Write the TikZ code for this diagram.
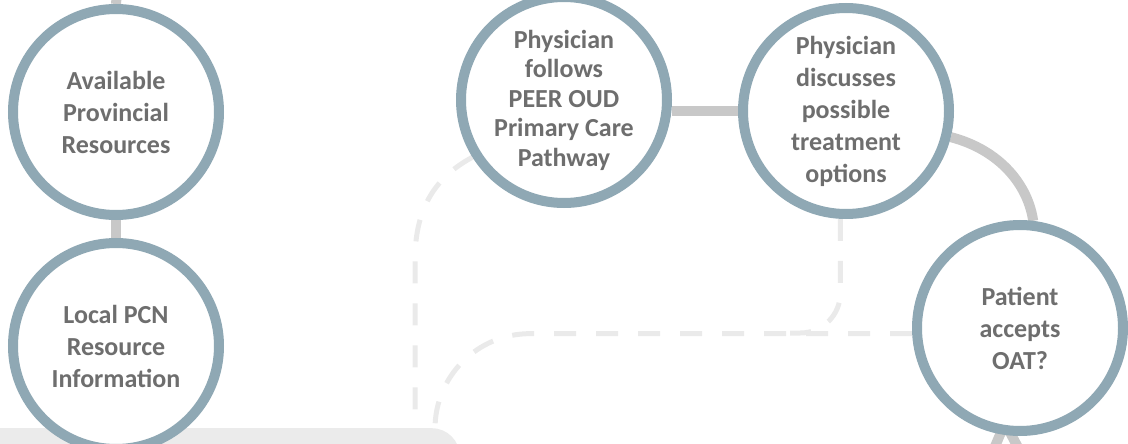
\documentclass[tikz,border=0pt]{standalone}
\usepackage{fontspec}
\setmainfont{Carlito}
\usetikzlibrary{positioning,backgrounds}
\definecolor{ring}{HTML}{8FA8B4}
\definecolor{txt}{HTML}{6E6E6E}
\definecolor{linkgray}{HTML}{C8C8C8}
\definecolor{dashgray}{HTML}{EAEAEA}
\definecolor{panelgray}{HTML}{EBEBEB}
\tikzset{
  base/.style={font=\fontsize{26}{32}\selectfont\bfseries, text=txt, align=center, inner sep=0pt},
  stage/.style={circle, draw=ring, line width=10pt, fill=white, minimum size=206pt, base},
  link/.style={draw=linkgray, line width=10pt},
  side/.style={draw=dashgray, line width=5pt, dash pattern=on 22pt off 20pt},
  panel/.style={fill=panelgray, rounded corners=28pt, minimum width=500pt, minimum height=60pt, inner sep=0pt}
}

\begin{document}
\begin{tikzpicture}[x=1pt, y=-1pt]
  \useasboundingbox (0,0) rectangle (1128,444);

  \node[panel, anchor=north east] (bar) at (460,428) {};

  \node[stage] (apr) at (116,112) {Available\\Provincial\\Resources};
  \node[stage, below=18pt of apr] (lpcn) {Local PCN\\Resource\\Information};
  \node[stage, font=\fontsize{26}{29.5}\selectfont\bfseries] (pcp) at (564,100) {Physician\\follows\\PEER OUD\\Primary Care\\Pathway};
  \node[stage] (disc) at (846,111) {Physician\\discusses\\possible\\treatment\\options};
  \node[stage] (oat) at (1020,328) {Patient\\accepts\\OAT?};

  \coordinate (up) at (118,-20);
  \coordinate (b1) at (985,470);
  \coordinate (b2) at (1030,470);
  \coordinate (j1) at (415,440);
  \coordinate (j2) at (435,440);
  \coordinate (m3) at (790,333);

  \begin{scope}[on background layer]
    % solid links
    \draw[link] (apr.north) -- (up);
    \draw[link] (apr.south) -- (lpcn.north);
    \draw[link] (disc.west) -- (pcp.east |- disc.west);
    \draw[link] (disc.-14) .. controls (1000,150) and (1028,185) .. (oat.83);
    \draw[link] (b1) -- ([yshift=12pt]oat.262) -- (b2);
    % dashed side paths
    \draw[side] (pcp.212) .. controls (430,180) and (415,215) .. (415,260) -- (j1);
    \draw[side, rounded corners=95pt] (oat.183) -| (j2);
    \draw[side, rounded corners=40pt] (disc.267) |- (m3);
  \end{scope}
\end{tikzpicture}
\end{document}
